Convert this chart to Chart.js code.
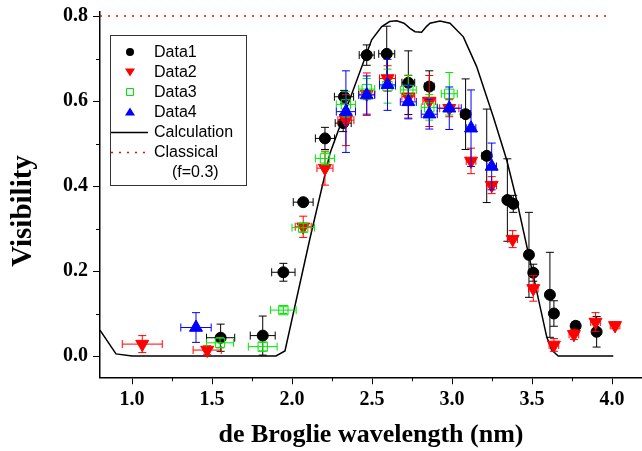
<!DOCTYPE html>
<html lang="en">
<head>
<meta charset="UTF-8">
<title>Visibility vs de Broglie wavelength</title>
<script src="https://cdn.jsdelivr.net/npm/chart.js"></script>
<style>
  body { margin: 0; background: #fff; }
  #chart { display: block; }
</style>
</head>
<body>
<canvas id="chart" width="642" height="451"></canvas>
<script>
// Data1 - black circles
const d1X    = [1.554, 1.817, 1.946, 2.07, 2.206, 2.325, 2.32, 2.467, 2.592, 2.727, 2.858, 3.085, 3.217, 3.346, 3.383, 3.481, 3.508, 3.612, 3.637, 3.773, 3.904];
const d1Y    = [0.043, 0.048, 0.197, 0.362, 0.512, 0.610, 0.548, 0.708, 0.711, 0.643, 0.634, 0.569, 0.471, 0.367, 0.358, 0.238, 0.196, 0.144, 0.100, 0.071, 0.057];
const d1XErr = [0.088, 0.078, 0.073, 0.062, 0.06, 0.06, 0.05, 0.047, 0.05, 0.04, 0.03, 0.03, 0.03, 0.02, 0.02, 0.02, 0.02, 0.02, 0.02, 0.02, 0.02];
const d1YErr = [0.032, 0.046, 0.021, 0.005, 0.026, 0.015, 0.02, 0.024, 0.065, 0.075, 0.037, 0.083, 0.11, 0.097, 0.02, 0.10, 0.02, 0.10, 0.03, 0.01, 0.036];

// Data2 - red down triangles
const d2X    = [1.064, 1.47, 2.07, 2.206, 2.337, 2.467, 2.597, 2.727, 2.858, 2.983, 3.119, 3.248, 3.379, 3.508, 3.637, 3.762, 3.897, 4.019];
const d2Y    = [0.028, 0.014, 0.304, 0.442, 0.555, 0.616, 0.653, 0.61, 0.60, 0.583, 0.459, 0.402, 0.275, 0.159, 0.026, 0.051, 0.080, 0.072];
const d2XErr = [0.125, 0.088, 0.05, 0.05, 0.05, 0.05, 0.05, 0.04, 0.04, 0.06, 0.03, 0.03, 0.03, 0.03, 0.03, 0.03, 0.03, 0.03];
const d2YErr = [0.02, 0.01, 0.025, 0.04, 0.06, 0.05, 0.03, 0.05, 0.06, 0.02, 0.03, 0.02, 0.02, 0.03, 0.015, 0.012, 0.022, 0.008];

// Data3 - green open squares
const d3X    = [1.55, 1.817, 1.946, 2.07, 2.206, 2.337, 2.467, 2.597, 2.727, 2.858, 2.983];
const d3Y    = [0.031, 0.022, 0.108, 0.302, 0.465, 0.592, 0.628, 0.635, 0.626, 0.585, 0.617];
const d3XErr = [0.085, 0.09, 0.08, 0.07, 0.06, 0.06, 0.05, 0.05, 0.05, 0.05, 0.05];
const d3YErr = [0.012, 0.01, 0.008, 0.01, 0.015, 0.03, 0.025, 0.04, 0.035, 0.03, 0.05];

// Data4 - blue up triangles
const d4X    = [1.40, 2.337, 2.467, 2.597, 2.727, 2.858, 2.983, 3.119, 3.248];
const d4Y    = [0.067, 0.575, 0.614, 0.638, 0.598, 0.569, 0.583, 0.536, 0.446];
const d4XErr = [0.095, 0.06, 0.05, 0.05, 0.05, 0.05, 0.075, 0.03, 0.03];
const d4YErr = [0.035, 0.096, 0.045, 0.06, 0.04, 0.035, 0.05, 0.09, 0.055];

// calculated curve
const calcX = [0.8, 0.9, 1.0, 1.9, 1.956, 2.11, 2.2375, 2.367, 2.498, 2.561, 2.61, 2.654, 2.70, 2.7375, 2.769, 2.81, 2.84, 2.8625, 2.925, 2.9875, 3.071, 3.154, 3.258, 3.342, 3.404, 3.477, 3.592, 3.623, 3.664, 4.008];
const calcY = [0.061, 0.005, 0.0, 0.0, 0.012, 0.273, 0.477, 0.61, 0.744, 0.775, 0.787, 0.789, 0.783, 0.771, 0.763, 0.762, 0.775, 0.783, 0.788, 0.783, 0.751, 0.681, 0.563, 0.461, 0.367, 0.242, 0.045, 0.014, 0.0, 0.0];

// classical limit (f=0.3)
const classicalX = [0.8, 4.0];
const classicalY = [0.8, 0.8];

const xTicks = [1.0, 1.5, 2.0, 2.5, 3.0, 3.5, 4.0];
const xMinor = [1.25, 1.75, 2.25, 2.75, 3.25, 3.75];
const yTicks = [0.0, 0.2, 0.4, 0.6, 0.8];
const yMinor = [0.1, 0.3, 0.5, 0.7];

const pts = (xs, ys) => xs.map((x, i) => ({ x: x, y: ys[i] }));

const serif = '"Liberation Serif", "Times New Roman", serif';
const sans = '"Liberation Sans", Arial, sans-serif';

// error bars are drawn just before the points of each dataset
const errorBars = {
    id: 'errorBars',
    beforeDatasetDraw(chart, args) {
        const ds = chart.data.datasets[args.index];
        if (!ds.yErr) return;
        const xs = chart.scales.x, ys = chart.scales.y, ctx = chart.ctx;
        const cap = 4;
        ctx.save();
        ctx.strokeStyle = ds.borderColor;
        ctx.lineWidth = 1;
        ds.data.forEach((p, i) => {
            const px = xs.getPixelForValue(p.x), py = ys.getPixelForValue(p.y);
            const t = ys.getPixelForValue(p.y + ds.yErr[i]), b = ys.getPixelForValue(p.y - ds.yErr[i]);
            const l = xs.getPixelForValue(p.x - ds.xErr[i]), r = xs.getPixelForValue(p.x + ds.xErr[i]);
            ctx.beginPath();
            ctx.moveTo(px, t); ctx.lineTo(px, b);
            ctx.moveTo(px - cap, t); ctx.lineTo(px + cap, t);
            ctx.moveTo(px - cap, b); ctx.lineTo(px + cap, b);
            ctx.moveTo(l, py); ctx.lineTo(r, py);
            ctx.moveTo(l, py - cap); ctx.lineTo(l, py + cap);
            ctx.moveTo(r, py - cap); ctx.lineTo(r, py + cap);
            ctx.stroke();
        });
        ctx.restore();
    }
};

function drawSymbol(ctx, style, x, y, color) {
    ctx.save();
    ctx.fillStyle = color; ctx.strokeStyle = color; ctx.lineWidth = 1;
    ctx.beginPath();
    if (style === 'circle') {
        ctx.arc(x, y, 4, 0, Math.PI * 2); ctx.fill();
    } else if (style === 'down') {
        ctx.moveTo(x - 5, y - 3.5); ctx.lineTo(x + 5, y - 3.5); ctx.lineTo(x, y + 4.5); ctx.closePath(); ctx.fill();
    } else if (style === 'up') {
        ctx.moveTo(x - 5, y + 3.5); ctx.lineTo(x + 5, y + 3.5); ctx.lineTo(x, y - 4.5); ctx.closePath(); ctx.fill();
    } else if (style === 'square') {
        ctx.rect(x - 3.5, y - 3.5, 7, 7); ctx.stroke();
    }
    ctx.restore();
}

// legend box, minor ticks and axis titles
const decorations = {
    id: 'decorations',
    afterDraw(chart) {
        const ctx = chart.ctx, xs = chart.scales.x, ys = chart.scales.y;
        const area = chart.chartArea;
        ctx.save();
        // minor ticks
        ctx.strokeStyle = '#000'; ctx.lineWidth = 1;
        ctx.beginPath();
        xMinor.forEach(v => {
            const px = Math.round(xs.getPixelForValue(v)) + 0.5;
            ctx.moveTo(px, area.bottom); ctx.lineTo(px, area.bottom + 4);
        });
        yMinor.forEach(v => {
            const py = Math.round(ys.getPixelForValue(v)) + 0.5;
            ctx.moveTo(area.left, py); ctx.lineTo(area.left - 4, py);
        });
        ctx.stroke();

        // axis titles
        ctx.fillStyle = '#000';
        ctx.font = 'bold 26px ' + serif;
        ctx.textAlign = 'center'; ctx.textBaseline = 'alphabetic';
        ctx.fillText('de Broglie wavelength (nm)', 371, 442);
        ctx.save();
        ctx.translate(31, 211);
        ctx.rotate(-Math.PI / 2);
        ctx.font = 'bold 29px ' + serif;
        ctx.fillText('Visibility', 0, 0);
        ctx.restore();

        // legend
        ctx.strokeStyle = '#333'; ctx.lineWidth = 1;
        ctx.strokeRect(110.5, 35.5, 136, 150);
        ctx.font = '16px ' + sans;
        ctx.textAlign = 'left'; ctx.textBaseline = 'middle';
        const rows = chart.data.datasets.slice().sort((a, b) => a.legendRow - b.legendRow);
        rows.forEach((ds, i) => {
            const y = 52 + i * 20;
            if (ds.legendSymbol === 'line') {
                ctx.save();
                ctx.strokeStyle = ds.borderColor; ctx.lineWidth = ds.borderWidth;
                ctx.setLineDash(ds.borderDash || []);
                ctx.beginPath(); ctx.moveTo(111, y + 0.5); ctx.lineTo(148, y + 0.5); ctx.stroke();
                ctx.restore();
            } else {
                drawSymbol(ctx, ds.legendSymbol, 130, y, ds.borderColor);
            }
            ctx.fillStyle = '#000';
            ctx.fillText(ds.label, 154, y + 1);
        });
        ctx.fillText('(f=0.3)', 172, 173);
        ctx.restore();
    }
};

new Chart(document.getElementById('chart'), {
    type: 'scatter',
    data: {
        datasets: [
            { label: 'Classical', data: pts(classicalX, classicalY), showLine: true, order: 10, legendRow: 6, legendSymbol: 'line',
              borderColor: '#ff0000', borderWidth: 1.5, borderDash: [2, 6], pointRadius: 0 },
            { label: 'Calculation', data: pts(calcX, calcY), showLine: true, order: 9, legendRow: 5, legendSymbol: 'line',
              borderColor: '#000', borderWidth: 1.5, pointRadius: 0, tension: 0 },
            { label: 'Data1', data: pts(d1X, d1Y), xErr: d1XErr, yErr: d1YErr, order: 4, legendRow: 1, legendSymbol: 'circle',
              pointStyle: 'circle', pointRadius: 5.5, backgroundColor: '#000', borderColor: '#000', borderWidth: 1 },
            { label: 'Data2', data: pts(d2X, d2Y), xErr: d2XErr, yErr: d2YErr, order: 3, legendRow: 2, legendSymbol: 'down',
              pointStyle: 'triangle', rotation: 180, pointRadius: 7.5, backgroundColor: '#ff0000', borderColor: '#ff0000', borderWidth: 1 },
            { label: 'Data3', data: pts(d3X, d3Y), xErr: d3XErr, yErr: d3YErr, order: 2, legendRow: 3, legendSymbol: 'square',
              pointStyle: 'rect', pointRadius: 6.6, backgroundColor: 'rgba(0,0,0,0)', borderColor: '#00e600', borderWidth: 1 },
            { label: 'Data4', data: pts(d4X, d4Y), xErr: d4XErr, yErr: d4YErr, order: 1, legendRow: 4, legendSymbol: 'up',
              pointStyle: 'triangle', pointRadius: 7.5, backgroundColor: '#0000ff', borderColor: '#0000ff', borderWidth: 1 }
        ]
    },
    options: {
        responsive: false,
        animation: false,
        events: [],
        layout: { autoPadding: false, padding: { top: 11.75, right: 0, left: 0, bottom: 0 } },
        plugins: { legend: { display: false }, tooltip: { enabled: false } },
        scales: {
            x: {
                type: 'linear', min: 0.8, max: 4.1875,
                afterBuildTicks: s => { s.ticks = xTicks.map(v => ({ value: v })); },
                afterFit: s => { s.height = 73.75; s.paddingLeft = 0; s.paddingRight = 0; },
                grid: { display: true, drawOnChartArea: false, drawTicks: true, tickLength: 7, tickColor: '#000', tickWidth: 1 },
                border: { display: true, color: '#000', width: 1.5 },
                ticks: { color: '#000', padding: 4, maxRotation: 0, font: { family: serif, size: 20, weight: 'bold' },
                         callback: v => v.toFixed(1) }
            },
            y: {
                type: 'linear', min: -0.05, max: 0.81,
                afterBuildTicks: s => { s.ticks = yTicks.map(v => ({ value: v })); },
                afterFit: s => { s.width = 100; s.paddingTop = 0; s.paddingBottom = 0; },
                grid: { display: true, drawOnChartArea: false, drawTicks: true, tickLength: 7, tickColor: '#000', tickWidth: 1 },
                border: { display: true, color: '#000', width: 1.5 },
                ticks: { color: '#000', padding: 5, font: { family: serif, size: 20, weight: 'bold' },
                         callback: v => v.toFixed(1) }
            }
        }
    },
    plugins: [errorBars, decorations]
});
</script>
</body>
</html>
